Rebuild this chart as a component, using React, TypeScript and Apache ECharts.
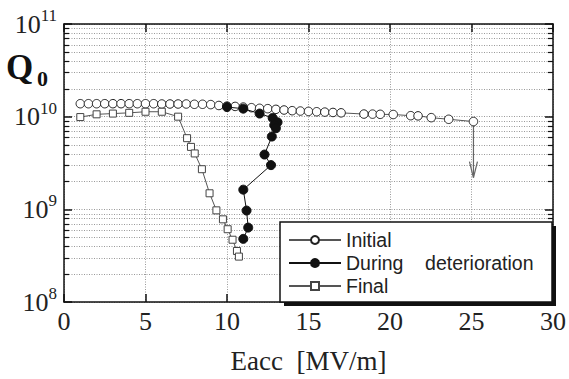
import React, { useEffect, useRef } from 'react';
import * as echarts from 'echarts';

// ---- Data ----
const initialX = [
  1, 1.5, 2, 2.5, 3, 3.5, 4, 4.5, 5, 5.5, 6, 6.5, 7, 7.5, 8, 8.5, 9, 9.5, 10, 10.5,
  11, 11.5, 12, 12.5, 13, 13.5, 14, 14.5, 15, 15.5, 16, 16.5, 17,
  18.4, 18.93, 19.4, 20.2, 21.27, 21.72, 22.53, 23.6, 25.12,
];
const initialQ = [
  1.38e10, 1.38e10, 1.38e10, 1.38e10, 1.38e10, 1.38e10, 1.38e10, 1.38e10, 1.38e10, 1.38e10,
  1.37e10, 1.37e10, 1.37e10, 1.37e10, 1.36e10, 1.36e10, 1.35e10, 1.32e10, 1.3e10, 1.29e10,
  1.27e10, 1.25e10, 1.23e10, 1.22e10, 1.2e10, 1.18e10, 1.16e10, 1.15e10, 1.14e10, 1.13e10,
  1.12e10, 1.11e10, 1.1e10,
  1.067e10, 1.065e10, 1.06e10, 1.055e10, 1.025e10, 1.02e10, 9.76e9, 9.37e9, 8.86e9,
];
const duringX = [10.0, 11.0, 12.0, 12.8, 13.1, 12.9, 13.0, 12.75, 12.3, 12.7, 11.0, 11.2, 11.3, 11.0];
const duringQ = [1.27e10, 1.22e10, 1.08e10, 9.7e9, 8.7e9, 8.1e9, 7.5e9, 6.1e9, 3.9e9, 3.0e9, 1.63e9, 9.7e8, 6.35e8, 4.8e8];
const finalX = [1.0, 2.0, 3.0, 4.0, 5.0, 6.0, 7.0, 7.55, 7.79, 8.02, 8.46, 8.93, 9.35, 9.75, 10.04, 10.34, 10.61, 10.73];
const finalQ = [9.9e9, 1.06e10, 1.08e10, 1.1e10, 1.13e10, 1.13e10, 1.0e10, 5.86e9, 4.72e9, 4.01e9, 2.71e9, 1.49e9, 9.75e8, 7.8e8, 6.1e8, 4.7e8, 3.55e8, 3.09e8];

const arrowX = 25.12;
const arrowFromQ = 8.86e9;
const arrowToQ = 2.2e9;

const minorGridQ = [
  2e8, 3e8, 4e8, 5e8, 6e8, 7e8, 8e8, 9e8,
  2e9, 3e9, 4e9, 5e9, 6e9, 7e9, 8e9, 9e9,
  2e10, 3e10, 4e10, 5e10, 6e10, 7e10, 8e10, 9e10,
];

const seriesNames = ['Initial', 'During deterioration', 'Final'];
const xAxisTitle = 'Eacc\u00A0\u00A0[MV/m]';

const zip = (xs: number[], ys: number[]) => xs.map((x, i) => [x, ys[i]]);

const SERIF = 'Liberation Serif';
const SANS = 'Liberation Sans';

export default function App() {
  const ref = useRef<HTMLDivElement>(null);
  useEffect(() => {
    if (!ref.current) return;
    const chart = echarts.init(ref.current, undefined, { renderer: 'svg' });
    const axisLineStyle = { color: '#111', width: 1.5 };
    const option: any = {
      animation: false,
      backgroundColor: '#fff',
      textStyle: { fontFamily: SERIF },
      grid: { left: 64, right: 11, top: 24, bottom: 70, containLabel: false },
      legend: {
        data: seriesNames,
        orient: 'vertical',
        left: 288,
        top: 230,
        itemWidth: 52,
        itemHeight: 10,
        itemGap: 3,
        padding: 0,
        selectedMode: false,
        z: 60,
        formatter: (n: string) => (n === 'During deterioration' ? 'During\u00A0\u00A0\u00A0\u00A0deterioration' : n),
        textStyle: { fontFamily: SANS, fontSize: 19.5, color: '#222', lineHeight: 19 },
      },
      graphic: [
        { type: 'rect', z: 50, shape: { x: 284, y: 226, width: 272, height: 80 }, style: { fill: '#111' } },
        { type: 'rect', z: 51, shape: { x: 280, y: 222, width: 272, height: 80 }, style: { fill: '#fff', stroke: '#111', lineWidth: 1.5 } },
        { type: 'text', z: 60, x: 6, y: 67, style: { text: 'Q', fontFamily: SERIF, fontWeight: 'bold', fontSize: 35, fill: '#111', verticalAlign: 'middle' } },
        { type: 'text', z: 60, x: 37, y: 78, style: { text: '0', fontFamily: SERIF, fontWeight: 'bold', fontSize: 22, fill: '#111', verticalAlign: 'middle' } },
      ],
      xAxis: [
        {
          type: 'value', min: 0, max: 30, interval: 5,
          axisLine: { show: true, onZero: false, lineStyle: axisLineStyle },
          axisTick: { show: true, inside: true, length: 8, lineStyle: { color: '#111', width: 1.5 } },
          axisLabel: { fontFamily: SERIF, fontSize: 26, color: '#222', margin: 6 },
          splitLine: { show: true, lineStyle: { color: '#999', width: 1, type: [1, 1.5] } },
          name: xAxisTitle, nameLocation: 'middle', nameGap: 45,
          nameTextStyle: { fontFamily: SERIF, fontSize: 27, color: '#222' },
        },
        {
          type: 'value', min: 0, max: 30, interval: 5, position: 'top',
          axisLine: { show: true, onZero: false, lineStyle: axisLineStyle },
          axisTick: { show: true, inside: true, length: 8, lineStyle: { color: '#111', width: 1.5 } },
          axisLabel: { show: false },
          splitLine: { show: false },
        },
      ],
      yAxis: [
        {
          type: 'log', logBase: 10, min: 1e8, max: 1e11,
          axisLine: { show: true, onZero: false, lineStyle: axisLineStyle },
          axisTick: { show: true, inside: true, length: 8, lineStyle: { color: '#111', width: 1.5 } },
          axisLabel: {
            margin: 7,
            fontFamily: SERIF,
            fontSize: 26,
            formatter: (v: number) => `{b|10}{e|${Math.round(Math.log10(v))}}`,
            rich: {
              b: { fontFamily: SERIF, fontSize: 26, color: '#222', verticalAlign: 'bottom', lineHeight: 26, padding: [4, 0, 0, 0] },
              e: { fontFamily: SERIF, fontSize: 17, color: '#222', verticalAlign: 'bottom', lineHeight: 17, padding: [0, 0, 13, 0] },
            },
          },
          splitLine: { show: true, lineStyle: { color: '#999', width: 1, type: [1, 1.5] } },
        },
        {
          type: 'log', logBase: 10, min: 1e8, max: 1e11, position: 'right',
          axisLine: { show: true, onZero: false, lineStyle: axisLineStyle },
          axisTick: { show: true, inside: true, length: 8, lineStyle: { color: '#111', width: 1.5 } },
          axisLabel: { show: false },
          splitLine: { show: false },
        },
      ],
      series: [
        {
          type: 'custom', name: 'minorGrid', silent: true, z: 1,
          data: minorGridQ.map((q) => [0, q]),
          encode: { x: 0, y: 1 },
          renderItem: (params: any, api: any) => {
            const cs = params.coordSys;
            const p = api.coord([0, api.value(1)]);
            const y = Math.round(p[1]) + 0.5;
            return {
              type: 'group',
              children: [
                { type: 'line', shape: { x1: cs.x, y1: y, x2: cs.x + cs.width, y2: y }, style: { stroke: '#999', lineWidth: 1, lineDash: [1, 1.5] } },
                { type: 'line', shape: { x1: cs.x, y1: y, x2: cs.x + 5, y2: y }, style: { stroke: '#111', lineWidth: 1.2 } },
                { type: 'line', shape: { x1: cs.x + cs.width - 5, y1: y, x2: cs.x + cs.width, y2: y }, style: { stroke: '#111', lineWidth: 1.2 } },
              ],
            };
          },
        },
        {
          type: 'custom', name: 'arrow', silent: true, z: 3,
          data: [[arrowX, arrowFromQ, arrowToQ]],
          encode: { x: 0, y: [1, 2] },
          renderItem: (params: any, api: any) => {
            const a = api.coord([api.value(0), api.value(1)]);
            const b = api.coord([api.value(0), api.value(2)]);
            return {
              type: 'group',
              children: [
                { type: 'line', shape: { x1: a[0], y1: a[1] + 4, x2: b[0], y2: b[1] }, style: { stroke: '#666', lineWidth: 1.2 } },
                { type: 'polyline', shape: { points: [[b[0] - 4, b[1] - 16], [b[0], b[1]], [b[0] + 4, b[1] - 16]] }, style: { stroke: '#666', fill: 'none', lineWidth: 1.2 } },
              ],
            };
          },
        },
        {
          type: 'line', name: seriesNames[0], data: zip(initialX, initialQ), z: 3,
          symbol: 'circle', symbolSize: 8.5, showAllSymbol: true,
          itemStyle: { color: '#fff', borderColor: '#222', borderWidth: 1 },
          lineStyle: { color: '#555', width: 1 },
        },
        {
          type: 'line', name: seriesNames[1], data: zip(duringX, duringQ), z: 4,
          symbol: 'circle', symbolSize: 9, showAllSymbol: true,
          itemStyle: { color: '#111', borderColor: '#111', borderWidth: 1 },
          lineStyle: { color: '#111', width: 1 },
        },
        {
          type: 'line', name: seriesNames[2], data: zip(finalX, finalQ), z: 3,
          symbol: 'rect', symbolSize: 7, showAllSymbol: true,
          itemStyle: { color: '#fff', borderColor: '#444', borderWidth: 1 },
          lineStyle: { color: '#555', width: 1 },
        },
      ],
    };
    chart.setOption(option);
    return () => chart.dispose();
  }, []);
  return <div ref={ref} style={{ position: 'fixed', left: 0, top: 0, width: 569, height: 379 }} />;
}
